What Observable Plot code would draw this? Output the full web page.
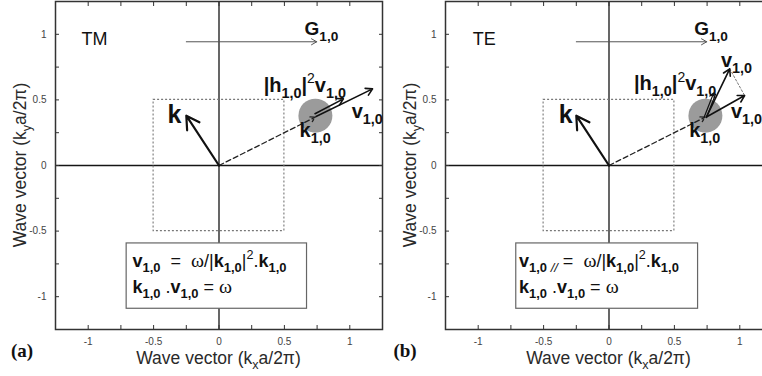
<!DOCTYPE html>
<html><head><meta charset="utf-8">
<script src="https://cdn.jsdelivr.net/npm/d3@7"></script>
<script src="https://cdn.jsdelivr.net/npm/@observablehq/plot@0.6"></script>
<style>
html,body{margin:0;padding:0;background:#fff;overflow:hidden;}
#wrap{position:relative;width:762px;height:376px;overflow:hidden;}
.panel{position:absolute;top:0;width:383px;height:376px;}
.panel svg{overflow:visible;max-width:none !important;width:383px;height:376px;}
</style></head>
<body><div id="wrap"></div>
<script>
// ---------- data ----------
const domain = [-1.25, 1.25];
const majorTicks = [-1, -0.5, 0, 0.5, 1];
const minorTicks = [-1, -0.75, -0.5, -0.25, 0, 0.25, 0.5, 0.75, 1];
const panelNames = ["TM", "TE"];
const panelTags = ["(a)", "(b)"];

const kArrow = [{x1: 0, y1: 0, x2: -0.25, y2: 0.38}];
const gArrow = [{x1: -0.25, y1: 0.943, x2: 0.747, y2: 0.943}];
const k10Spot = [{x: 0.737, y: 0.38}];
const dashedK10 = [{x1: 0, y1: 0, x2: 0.735, y2: 0.368}];
const brillouinZone = [{x1: -0.5, x2: 0.5, y1: -0.5, y2: 0.5}];
const formulaBoxTM = [{x1: -0.706, x2: 0.673, y1: -1.092, y2: -0.594}];
const formulaBoxTE = [{x1: -0.709, x2: 0.681, y1: -1.092, y2: -0.594}];

// TM vectors
const hvTM = [{x1: 0.734, y1: 0.395, x2: 0.951, y2: 0.508}];
const vTM = [{x1: 0.742, y1: 0.373, x2: 1.174, y2: 0.584}];
// TE vectors
const vTE = [{x1: 0.745, y1: 0.37, x2: 0.923, y2: 0.737}];
const vParTE = [{x1: 0.745, y1: 0.37, x2: 1.037, y2: 0.533}];
const hvTE = [{x1: 0.728, y1: 0.37, x2: 0.8, y2: 0.552}];
const hvTE2 = [{x1: 0.745, y1: 0.365, x2: 0.815, y2: 0.545}];
const projTE = [{x: 0.923, y: 0.737}, {x: 1.037, y: 0.533}];

const SANS = "'Liberation Sans', Arial, Helvetica, sans-serif";
const SERIF = "'Liberation Serif', 'Times New Roman', serif";

function rich(svg, px, py, segs, fs, opts = {}) {
  const t = d3.select(svg).append("text")
    .attr("x", px).attr("y", py)
    .attr("font-family", SANS).attr("font-size", fs)
    .attr("fill", opts.fill || "#111")
    .attr("text-anchor", opts.anchor || "start")
    .style("white-space", "pre");
  if (opts.rotate) t.attr("transform", `rotate(${opts.rotate},${px},${py})`);
  let cur = 0;
  for (const [txt, f] of segs) {
    const sp = t.append("tspan").text(txt);
    let size = f.includes("w") ? fs * 1.1 : fs, off = 0;
    if (f.includes("s")) { size = fs * 0.72; off = fs * 0.3; }
    if (f.includes("p")) { size = fs * 0.7; off = -fs * 0.42; }
    sp.attr("dy", (off - cur).toFixed(2)).attr("font-size", size);
    cur = off;
    if (f.includes("b")) sp.attr("font-weight", "bold");
    if (f.includes("w")) sp.attr("font-family", SERIF);
    if (f.includes("i")) sp.attr("font-style", "italic").attr("font-weight", "normal");
  }
  return t;
}

function basePlot(extra, box) {
  return Plot.plot({
    width: 383, height: 376,
    marginLeft: 55, marginRight: 1, marginTop: 1, marginBottom: 47,
    x: {domain}, y: {domain},
    style: {fontFamily: SANS, background: "white"},
    marks: [
      Plot.ruleX([0], {stroke: "#151515", strokeWidth: 1.3}),
      Plot.ruleY([0], {stroke: "#151515", strokeWidth: 1.3}),
      Plot.rect(brillouinZone, {x1: "x1", x2: "x2", y1: "y1", y2: "y2", fill: "none", stroke: "#777", strokeWidth: 1.1, strokeDasharray: "2,2"}),
      Plot.rect(box, {x1: "x1", x2: "x2", y1: "y1", y2: "y2", fill: "white", stroke: "#666", strokeWidth: 1.2}),
      Plot.dot(k10Spot, {x: "x", y: "y", r: 17, fill: "#9b9b9b"}),
      Plot.arrow(dashedK10, {x1: "x1", y1: "y1", x2: "x2", y2: "y2", stroke: "#222", strokeWidth: 1.3, strokeDasharray: "5,3", headLength: 6}),
      Plot.arrow(kArrow, {x1: "x1", y1: "y1", x2: "x2", y2: "y2", stroke: "#111", strokeWidth: 2.2, headLength: 10}),
      Plot.arrow(gArrow, {x1: "x1", y1: "y1", x2: "x2", y2: "y2", stroke: "#555", strokeWidth: 1, headLength: 9}),
      ...extra,
      Plot.axisX(minorTicks, {tickSize: -4, tickFormat: () => "", label: null, stroke: "#333"}),
      Plot.axisX(minorTicks, {anchor: "top", tickSize: -4, tickFormat: () => "", label: null, stroke: "#333"}),
      Plot.axisY(minorTicks, {tickSize: -4, tickFormat: () => "", label: null, stroke: "#333"}),
      Plot.axisY(minorTicks, {anchor: "right", tickSize: -4, tickFormat: () => "", label: null, stroke: "#333"}),
      Plot.axisX(majorTicks, {tickSize: 0, tickPadding: 8, tickFormat: d => String(d), label: null, fontSize: 10, fill: "#444"}),
      Plot.axisY(majorTicks, {tickSize: 0, tickPadding: 9, tickFormat: d => String(d), label: null, fontSize: 10, fill: "#444"}),
      Plot.frame({stroke: "#333", strokeWidth: 1.5})
    ]
  });
}

const arrowOpts = {x1: "x1", y1: "y1", x2: "x2", y2: "y2", stroke: "#111", strokeWidth: 1.6, headLength: 7};

const tm = basePlot([
  Plot.arrow(hvTM, arrowOpts),
  Plot.arrow(vTM, arrowOpts)
], formulaBoxTM);
const te = basePlot([
  Plot.line(projTE, {x: "x", y: "y", stroke: "#777", strokeWidth: 1, strokeDasharray: "2,2"}),
  Plot.arrow(hvTE, {...arrowOpts, strokeWidth: 1.2, headLength: 6}),
  Plot.arrow(hvTE2, {...arrowOpts, strokeWidth: 1.2, headLength: 0}),
  Plot.arrow(vTE, arrowOpts),
  Plot.arrow(vParTE, arrowOpts)
], formulaBoxTE);

const wrap = document.getElementById("wrap");
const dl = document.createElement("div"); dl.className = "panel"; dl.style.left = "0px"; dl.appendChild(tm);
const dr = document.createElement("div"); dr.className = "panel"; dr.style.left = "390px"; dr.appendChild(te);
wrap.appendChild(dl); wrap.appendChild(dr);

const B = "b", BS = "bs";
const sub10 = ["1,0", BS];
const labels = {
  TM: [
    {x: -1.048, y: 0.915, fs: 18, segs: [["TM", ""]]},
    {x: 0.658, y: 0.99, fs: 19, segs: [["G", B], sub10]},
    {x: -0.39, y: 0.322, fs: 25, segs: [["k", B]]},
    {x: 0.345, y: 0.56, fs: 20, segs: [["|h", B], sub10, ["|", B], ["2", "p"], ["v", B], sub10]},
    {x: 1.018, y: 0.36, fs: 20, segs: [["v", B], sub10]},
    {x: 0.62, y: 0.216, fs: 20, segs: [["k", B], sub10]},
    {x: -0.658, y: -0.777, fs: 18, segs: [["v", B], sub10, ["  =  ", ""], ["ω", "w"], ["/|", ""], ["k", B], sub10, ["|", ""], ["2", "p"], [".", ""], ["k", B], sub10]},
    {x: -0.658, y: -0.975, fs: 18, segs: [["k", B], sub10, [" .", ""], ["v", B], sub10, [" = ", ""], ["ω", "w"]]}
  ],
  TE: [
    {x: -1.038, y: 0.915, fs: 18, segs: [["TE", ""]]},
    {x: 0.655, y: 0.99, fs: 19, segs: [["G", B], sub10]},
    {x: -0.38, y: 0.322, fs: 25, segs: [["k", B]]},
    {x: 0.195, y: 0.572, fs: 20, segs: [["|h", B], sub10, ["|", B], ["2", "p"], ["v", B], sub10]},
    {x: 0.86, y: 0.75, fs: 20, segs: [["v", B], sub10]},
    {x: 0.936, y: 0.358, fs: 20, segs: [["v", B], ["1,0//", BS]]},
    {x: 0.617, y: 0.216, fs: 20, segs: [["k", B], sub10]},
    {x: -0.684, y: -0.777, fs: 18, segs: [["v", B], sub10, [" //", "si"], [" =  ", ""], ["ω", "w"], ["/|", ""], ["k", B], sub10, ["|", ""], ["2", "p"], [".", ""], ["k", B], sub10]},
    {x: -0.684, y: -0.975, fs: 18, segs: [["k", B], sub10, [" .", ""], ["v", B], sub10, [" = ", ""], ["ω", "w"]]}
  ]
};

[tm, te].forEach((svg, i) => {
  const sx = svg.scale("x"), sy = svg.scale("y");
  for (const L of labels[panelNames[i]]) rich(svg, sx.apply(L.x), sy.apply(L.y), L.segs, L.fs);
  // axis titles
  rich(svg, sx.apply(0), 364, [["Wave vector (k", ""], ["x", "s"], ["a/2π)", ""]], 17.5, {anchor: "middle", fill: "#2a2a2a"});
  rich(svg, 55 - 29, sy.apply(0), [["Wave vector (k", ""], ["y", "s"], ["a/2π)", ""]], 17.5, {anchor: "middle", fill: "#2a2a2a", rotate: -90});
  d3.select(svg).append("text").attr("x", i === 0 ? 22 : 15).attr("y", 357)
    .attr("font-family", SERIF).attr("font-weight", "bold").attr("font-size", 19).attr("fill", "#111")
    .text(panelTags[i]);
});
</script></body></html>
